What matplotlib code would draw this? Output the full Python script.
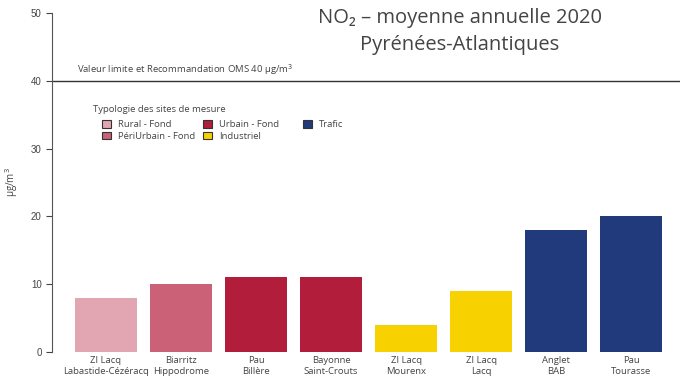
import matplotlib.pyplot as plt
from matplotlib.patches import Patch

sites = ["ZI Lacq\nLabastide-Cézéracq", "Biarritz\nHippodrome", "Pau\nBillère",
         "Bayonne\nSaint-Crouts", "ZI Lacq\nMourenx", "ZI Lacq\nLacq",
         "Anglet\nBAB", "Pau\nTourasse"]
values = [8, 10, 11, 11, 4, 9, 18, 20]
types = ["Rural - Fond", "PériUrbain - Fond", "Urbain - Fond", "Urbain - Fond",
         "Industriel", "Industriel", "Trafic", "Trafic"]

type_names = ["Rural - Fond", "PériUrbain - Fond", "Urbain - Fond", "Industriel", "Trafic"]
type_colors = ["#E2A6B2", "#CB6176", "#B11D3A", "#F8D200", "#213A7C"]
color_of = dict(zip(type_names, type_colors))

limit = 40

plt.rcParams["font.family"] = ["Open Sans", "DejaVu Sans"]
txt = "#444444"

fig = plt.figure(figsize=(6.8, 3.85), dpi=100)
ax = fig.add_axes([52 / 680, 1 - 352 / 385, 1 - 52 / 680, 339 / 385])

x = list(range(len(sites)))
ax.bar(x, values, width=0.83, color=[color_of[t] for t in types])
ax.axhline(limit, color="#333333", lw=1)
ax.text(-0.39, limit + 0.6, "Valeur limite et Recommandation OMS 40 µg/m$^3$",
        fontsize=6.8, color=txt, va="bottom", ha="left")

ax.set_xlim(-0.72, 7.65)
ax.set_ylim(0, 50)
ax.set_yticks([0, 10, 20, 30, 40, 50])
ax.set_xticks(x)
ax.set_xticklabels(sites, fontsize=6.8, color=txt, linespacing=1.3)
ax.tick_params(axis="x", length=0, pad=3)
ax.tick_params(axis="y", labelsize=7, colors=txt, length=4, width=0.8)
for lab in ax.get_yticklabels():
    lab.set_family("Liberation Sans")
for s in ["top", "right", "bottom"]:
    ax.spines[s].set_visible(False)
ax.spines["left"].set_color("#555555")
ax.spines["left"].set_linewidth(0.8)

ax.set_ylabel("µg/m$^3$", fontsize=7, color=txt)
ax.yaxis.set_label_coords(-0.051, 0.5)

fig.text(460 / 680, 1 - 18 / 385, "NO₂ – moyenne annuelle 2020", fontsize=14.5,
         color="#444444", ha="center", va="center")
fig.text(460 / 680, 1 - 45 / 385, "Pyrénées-Atlantiques", fontsize=14.5,
         color="#444444", ha="center", va="center")

fig.text(93 / 680, 1 - 109 / 385, "Typologie des sites de mesure", fontsize=6.8,
         color=txt, ha="left", va="center")
handles = [Patch(facecolor=c, edgecolor="#333333", linewidth=0.8) for c in type_colors]
columns = [(102, [0, 1]), (203, [2, 3]), (303, [4])]
for xpx, idx in columns:
    fig.legend([handles[i] for i in idx], [type_names[i] for i in idx], loc="upper left",
               bbox_to_anchor=(xpx / 680, 1 - 120 / 385), frameon=False, fontsize=6.8,
               handlelength=0.9, handleheight=0.9, handletextpad=0.8,
               labelspacing=0.25, labelcolor=txt, borderpad=0, borderaxespad=0)

fig.savefig("out.png", dpi=100)
